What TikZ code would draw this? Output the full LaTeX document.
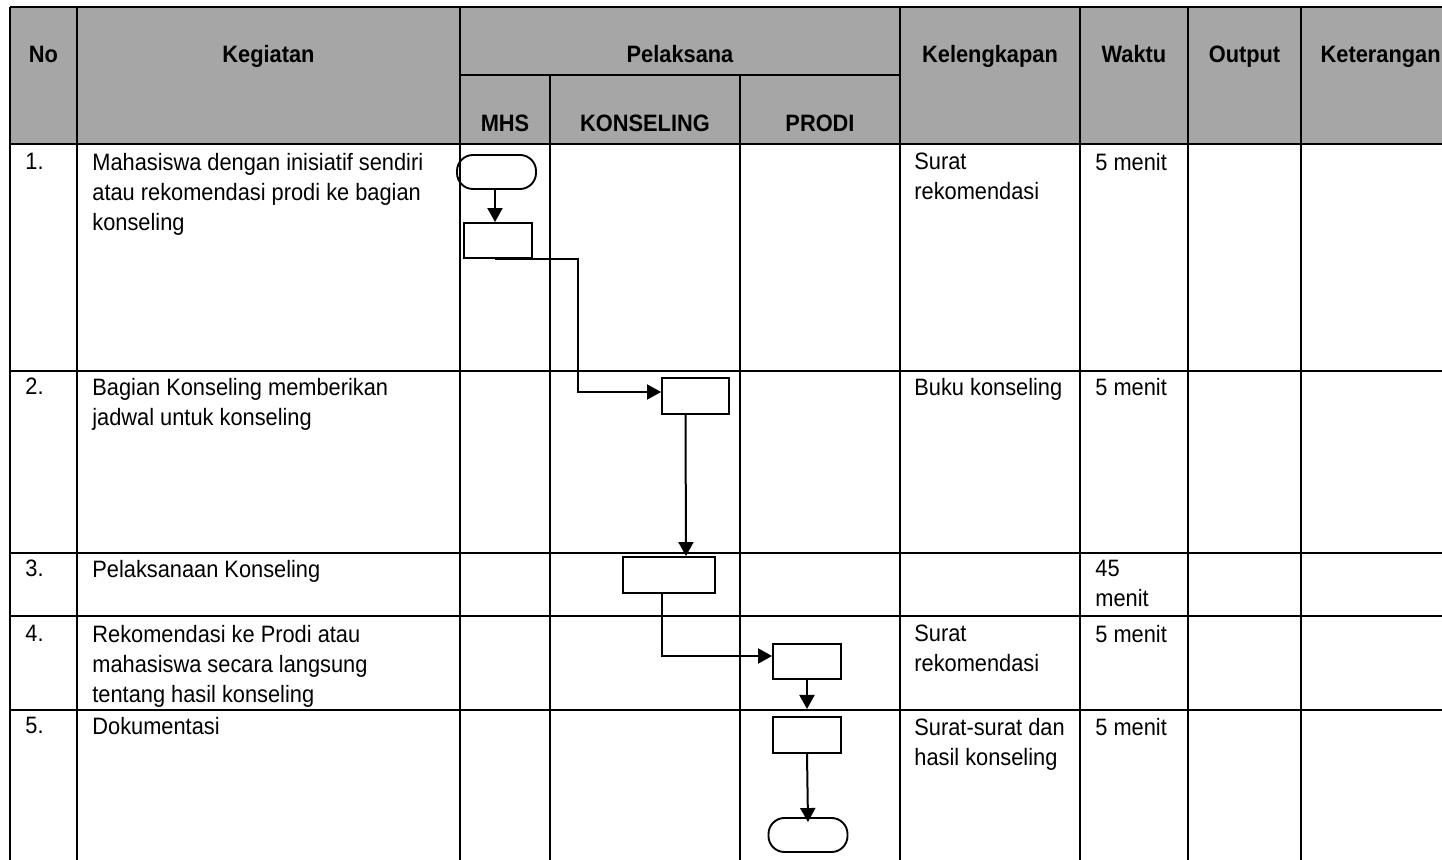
\documentclass[tikz,border=0pt]{standalone}
\usepackage{fontspec}
\setmainfont[FakeStretch=0.92]{Liberation Sans}
\usetikzlibrary{arrows.meta}
\definecolor{headgray}{RGB}{166,166,166}
\newcommand{\fs}{\fontsize{11.85pt}{15pt}\selectfont}
\begin{document}
\begin{tikzpicture}[x=0.5pt,y=-0.5pt,
  grid/.style={line width=1.15pt},
  hd/.style={anchor=base, inner sep=0pt, font=\fs\bfseries},
  txt/.style={anchor=north west, inner sep=0pt, align=left, font=\fs},
  proc/.style={draw, line width=0.95pt, minimum width=#1, minimum height=17.5pt, inner sep=0pt},
  proc/.default=34pt,
  term/.style={draw, line width=0.95pt, rounded corners=8pt, minimum width=39.5pt, minimum height=17pt, inner sep=0pt},
  arr/.style={line width=1pt, -{Triangle[length=7pt,width=7.5pt]}}
]
\fill[white] (0,0) rectangle (1442,860);
\useasboundingbox (0,0) rectangle (1442,860);
% header background
\fill[headgray] (10,7) rectangle (1442,144);
% grid
\draw[grid] (10,7) -- (1442,7);
\draw[grid] (10,144) -- (1442,144);
\foreach \y in {371,553,616,710} \draw[grid] (10,\y) -- (1442,\y);
\draw[grid] (460,75) -- (900,75);
\foreach \x in {10,77,460,900,1080,1188,1301} \draw[grid] (\x,7) -- (\x,860);
\foreach \x in {550,740} \draw[grid] (\x,75) -- (\x,860);
% header text
\node[hd] (hNo) at (43.5,63) {No};
\node[hd] (hKeg) at (268.5,63) {Kegiatan};
\node[hd] (hPel) at (680,63) {Pelaksana};
\node[hd] (hMhs) at (505,132) {MHS};
\node[hd] (hKon) at (645,132) {KONSELING};
\node[hd] (hPro) at (820,132) {PRODI};
\node[hd] (hKel) at (990,63) {Kelengkapan};
\node[hd] (hWak) at (1134,63) {Waktu};
\node[hd] (hOut) at (1244.5,63) {Output};
\node[hd, anchor=base east] (hKet) at (1441,63) {Keterangan};
% row 1
\node[txt] (n1) at (25,152.7) {1.};
\node[txt] (k1) at (92,152.7) {Mahasiswa dengan inisiatif sendiri\\atau rekomendasi prodi ke bagian\\konseling};
\node[txt] (l1) at (914,152.7) {Surat\\rekomendasi};
\node[txt] (w1) at (1095,152.7) {5 menit};
% row 2
\node[txt] (n2) at (25,377.7) {2.};
\node[txt] (k2) at (92,377.7) {Bagian Konseling memberikan\\jadwal untuk konseling};
\node[txt] (l2) at (914,377.7) {Buku konseling};
\node[txt] (w2) at (1095,377.7) {5 menit};
% row 3
\node[txt] (n3) at (25,559.7) {3.};
\node[txt] (k3) at (92,559.7) {Pelaksanaan Konseling};
\node[txt] (w3) at (1095,559.7) {45\\menit};
% row 4
\node[txt] (n4) at (25,624.7) {4.};
\node[txt] (k4) at (92,624.7) {Rekomendasi ke Prodi atau\\mahasiswa secara langsung\\tentang hasil konseling};
\node[txt] (l4) at (914,624.7) {Surat\\rekomendasi};
\node[txt] (w4) at (1095,624.7) {5 menit};
% row 5
\node[txt] (n5) at (25,716.7) {5.};
\node[txt] (k5) at (92,716.7) {Dokumentasi};
\node[txt] (l5) at (914,717.7) {Surat-surat dan\\hasil konseling};
\node[txt] (w5) at (1095,717.7) {5 menit};
% flow shapes
\node[term] (start) at (496.5,172) {};
\node[proc] (b1) at (498,240.5) {};
\node[proc=33.5pt, minimum height=18pt] (b2) at (695.5,396) {};
\node[proc=46pt, minimum height=18pt] (b3) at (669,575) {};
\node[proc] (b4) at (807,661.5) {};
\node[proc, minimum height=18pt] (b5) at (807,735) {};
\node[term] (stop) at (808,835) {};
\coordinate (t4) at (807,709);
% connectors
\draw[arr] ([xshift=-0.75pt]start.south) -- ([xshift=-1.5pt]b1.north);
\draw[arr] ([xshift=-1.5pt]b1.south) -- ++(83,0) |- ([yshift=2pt]b2.west);
\draw[arr] ([xshift=-5pt]b2.south) -- ([xshift=8.5pt]b3.north);
\draw[arr] ([xshift=-3.5pt]b3.south) |- ([yshift=2.75pt]b4.west);
\draw[arr] (b4.south) -- (t4);
\draw[arr] (b5.south) -- ([yshift=-2.5pt]stop.north);
\end{tikzpicture}
\end{document}
